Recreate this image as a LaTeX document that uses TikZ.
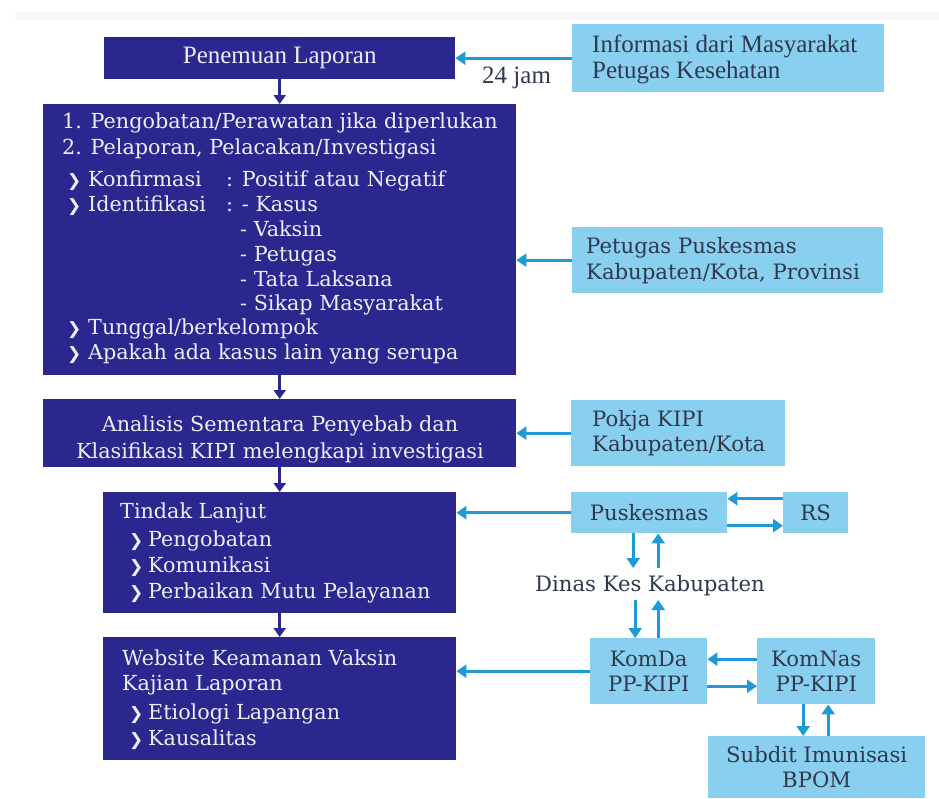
\documentclass[tikz,border=0pt]{standalone}
\usepackage{fontspec}
\setmainfont{DejaVu Serif}
\newfontfamily\timesf{Liberation Serif}
\newfontfamily\symf{DejaVu Sans}
\usetikzlibrary{arrows.meta}
\definecolor{navy}{RGB}{42,40,142}
\definecolor{lblue}{RGB}{137,207,240}
\definecolor{cyanarr}{RGB}{30,155,215}
\definecolor{navytext}{RGB}{238,238,250}
\definecolor{darktext}{RGB}{48,56,76}
\newcommand{\bodyf}{\fontsize{20.7}{25}\selectfont}
\newcommand{\lightf}{\fontsize{21.2}{25}\selectfont}
\newcommand{\topf}{\timesf\fontsize{25}{29}\selectfont}
\newcommand{\bul}{{\symf\fontsize{17}{17}\selectfont ❯}}
\tikzset{
  navybox/.style={fill=navy, draw=none, inner sep=0pt, anchor=north west, text=navytext},
  lightbox/.style={fill=lblue, draw=none, inner sep=0pt, anchor=north west, text=darktext, font=\lightf, align=center},
  navyarrow/.style={draw=navy, line width=3pt, -{Triangle[length=9pt,width=12pt]}},
  cyanarrow/.style={draw=cyanarr, line width=3pt, -{Triangle[length=10pt,width=13pt]}},
  wt/.style={text=navytext, anchor=base west, inner sep=0pt, font=\bodyf},
  wtc/.style={text=navytext, anchor=base, inner sep=0pt, font=\bodyf},
  dt/.style={text=darktext, anchor=base west, inner sep=0pt, font=\lightf},
}
\begin{document}
\begin{tikzpicture}[x=1pt,y=-1pt]
\useasboundingbox (0,0) rectangle (939,798);
\fill[black!3] (15,12) rectangle (939,20);

% boxes
\node[navybox, minimum width=351pt, minimum height=42pt, font=\topf] (pen) at (104,37) {Penemuan Laporan};
\node[lightbox, minimum width=312pt, minimum height=68pt] (info) at (572,24) {};
\node[navybox, minimum width=473pt, minimum height=271pt] (b2) at (43,104) {};
\node[navybox, minimum width=473pt, minimum height=68pt] (b3) at (43,399) {};
\node[lightbox, minimum width=311pt, minimum height=66pt] (pet) at (572,227) {};
\node[lightbox, minimum width=214pt, minimum height=66pt] (pokja) at (571,400) {};
\node[navybox, minimum width=353pt, minimum height=121pt] (b4) at (103,492) {};
\node[navybox, minimum width=353pt, minimum height=123pt] (b5) at (103,637) {};
\node[lightbox, minimum width=156pt, minimum height=41pt] (pusk) at (571,492) {Puskesmas};
\node[lightbox, minimum width=65pt, minimum height=41pt] (rs) at (783,492) {RS};
\node[lightbox, minimum width=117pt, minimum height=66pt] (komda) at (590,638) {KomDa\\PP-KIPI};
\node[lightbox, minimum width=118pt, minimum height=66pt] (komnas) at (757,638) {KomNas\\PP-KIPI};
\node[lightbox, minimum width=217pt, minimum height=62pt] (subdit) at (708,736) {Subdit Imunisasi\\BPOM};

% top texts
\node[text=darktext, anchor=base west, inner sep=0pt, font=\topf] (info1) at (592,52) {Informasi dari Masyarakat};
\node[text=darktext, anchor=base west, inner sep=0pt, font=\topf] (info2) at (592,78) {Petugas Kesehatan};
\node[text=darktext, anchor=base west, inner sep=0pt, font=\topf] (jam) at (482,83) {24 jam};

% box 2 text
\node[wt] (l1) at (62,128) {1. Pengobatan/Perawatan jika diperlukan};
\node[wt] (l2) at (62,154) {2. Pelaporan, Pelacakan/Investigasi};
\node[wt] (bu1) at (67,186) {\bul};
\node[wt] (l3) at (88,186) {Konfirmasi};
\node[wt] (l3b) at (226,186) {: Positif atau Negatif};
\node[wt] (bu2) at (67,211) {\bul};
\node[wt] (l4) at (88,211) {Identifikasi};
\node[wt] (l4b) at (226,211) {: - Kasus};
\node[wt] (l5) at (240,236) {- Vaksin};
\node[wt] (l6) at (240,261) {- Petugas};
\node[wt] (l7) at (240,286) {- Tata Laksana};
\node[wt] (l8) at (240,310) {- Sikap Masyarakat};
\node[wt] (bu3) at (67,334) {\bul};
\node[wt] (l9) at (88,334) {Tunggal/berkelompok};
\node[wt] (bu4) at (67,359) {\bul};
\node[wt] (l10) at (88,359) {Apakah ada kasus lain yang serupa};

% box 3 text
\node[wtc] (a1) at (280,431) {Analisis Sementara Penyebab dan};
\node[wtc] (a2) at (280,458) {Klasifikasi KIPI melengkapi investigasi};

% light box texts
\node[dt] (p1) at (586,253) {Petugas Puskesmas};
\node[dt] (p2) at (586,279) {Kabupaten/Kota, Provinsi};
\node[dt] (k1) at (592,426) {Pokja KIPI};
\node[dt] (k2) at (592,451) {Kabupaten/Kota};

% box 4 text
\node[wt] (t1) at (120,518) {Tindak Lanjut};
\node[wt] (tb1) at (129,546) {\bul};
\node[wt] (t2) at (148,546) {Pengobatan};
\node[wt] (tb2) at (129,572) {\bul};
\node[wt] (t3) at (148,572) {Komunikasi};
\node[wt] (tb3) at (129,598) {\bul};
\node[wt] (t4) at (148,598) {Perbaikan Mutu Pelayanan};

% box 5 text
\node[wt] (w1) at (122,665) {Website Keamanan Vaksin};
\node[wt] (w2) at (122,690) {Kajian Laporan};
\node[wt] (wb1) at (129,719) {\bul};
\node[wt] (w3) at (148,719) {Etiologi Lapangan};
\node[wt] (wb2) at (129,745) {\bul};
\node[wt] (w4) at (148,745) {Kausalitas};

% Dinas
\node[text=darktext, anchor=base, inner sep=0pt, font=\lightf] (dinas) at (650,591) {Dinas Kes Kabupaten};
\coordinate (dtop) at (650,568);
\coordinate (dbot) at (650,600);

% navy arrows
\draw[navyarrow] (pen.south) -- (b2.north);
\draw[navyarrow] (b2.south) -- (b3.north);
\draw[navyarrow] (b3.south) -- (b4.north);
\draw[navyarrow] (b4.south) -- (b5.north);

% cyan arrows
\draw[cyanarrow] (info.west) -- (pen.east);
\draw[cyanarrow] (pet.west) -- (pet.west -| b2.east);
\draw[cyanarrow] (pokja.west) -- (pokja.west -| b3.east);
\draw[cyanarrow] (pusk.west) -- (pusk.west -| b4.east);
\draw[cyanarrow] (komda.west) -- (komda.west -| b5.east);
\draw[cyanarrow] ([yshift=14pt]rs.west) -- ([yshift=14pt]rs.west -| pusk.east);
\draw[cyanarrow] ([yshift=-13pt]pusk.east) -- ([yshift=-13pt]pusk.east -| rs.west);
\draw[cyanarrow] ([xshift=-16pt]pusk.south) -- ([xshift=-16pt]pusk.south |- dtop);
\draw[cyanarrow] ([xshift=9pt]pusk.south |- dtop) -- ([xshift=9pt]pusk.south);
\draw[cyanarrow] ([xshift=-13.5pt]komda.north |- dbot) -- ([xshift=-13.5pt]komda.north);
\draw[cyanarrow] ([xshift=9.5pt]komda.north) -- ([xshift=9.5pt]komda.north |- dbot);
\draw[cyanarrow] ([yshift=12pt]komnas.west) -- ([yshift=12pt]komnas.west -| komda.east);
\draw[cyanarrow] ([yshift=-15pt]komda.east) -- ([yshift=-15pt]komda.east -| komnas.west);
\draw[cyanarrow] ([xshift=-13pt]komnas.south) -- ([xshift=-13pt]komnas.south |- subdit.north);
\draw[cyanarrow] ([xshift=12pt]komnas.south |- subdit.north) -- ([xshift=12pt]komnas.south);
\end{tikzpicture}
\end{document}
